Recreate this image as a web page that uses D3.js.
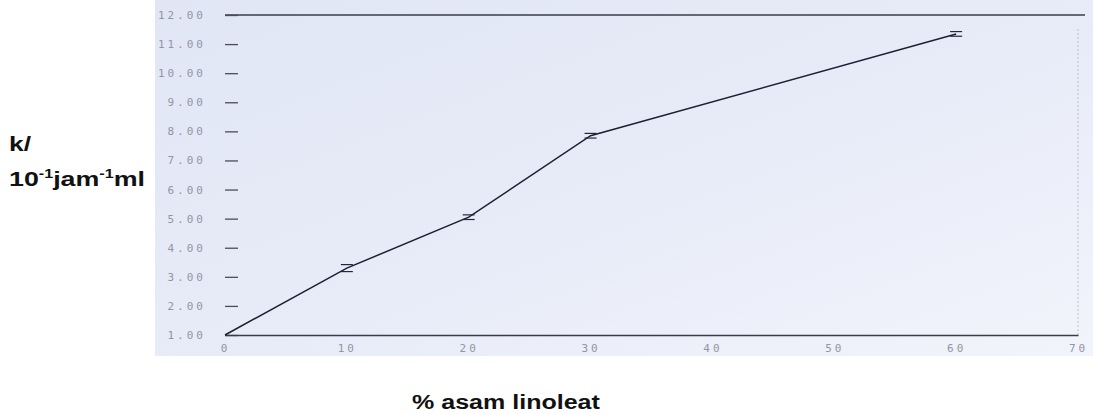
<!DOCTYPE html>
<html>
<head>
<meta charset="utf-8">
<script src="https://cdn.jsdelivr.net/npm/d3@7"></script>
<style>
  body { margin: 0; background: #fff; }
  svg { display: block; }
</style>
</head>
<body>
<div id="viz_container"></div>
<script>
// Data ///////////////////////////////////////////
const linoleat = [0, 10, 20, 30, 60];           // % asam linoleat
const kValues = [1.00, 3.30, 5.05, 7.85, 11.35]; // k / 10^-1 jam^-1 ml
const kErr = [0.03, 0.12, 0.08, 0.08, 0.08];
const xTicks = [0, 10, 20, 30, 40, 50, 60, 70];
const yTicks = [1, 2, 3, 4, 5, 6, 7, 8, 9, 10, 11, 12];

const W = 1093, H = 414;
const svg = d3.select("#viz_container")
  .append("svg")
    .attr("width", W)
    .attr("height", H);

// scanned paper background
const defs = svg.append("defs");
const grad = defs.append("linearGradient").attr("id", "paper")
  .attr("x1", "0").attr("y1", "0").attr("x2", "1").attr("y2", "1");
grad.append("stop").attr("offset", "0%").attr("stop-color", "#e1e6f5");
grad.append("stop").attr("offset", "55%").attr("stop-color", "#e8ecf8");
grad.append("stop").attr("offset", "100%").attr("stop-color", "#f2f4fb");

svg.append("rect")
  .attr("x", 155).attr("y", 0)
  .attr("width", W - 155).attr("height", 356)
  .attr("fill", "url(#paper)");

// scales
const x = d3.scaleLinear().domain([0, 70]).range([225, 1078]);
const y = d3.scaleLinear().domain([1, 12]).range([335, 15]);

// top border line
svg.append("line")
  .attr("x1", x(0)).attr("x2", 1085)
  .attr("y1", y(12)).attr("y2", y(12))
  .attr("stroke", "#3a3d48").attr("stroke-width", 1.6);

// right dotted edge
svg.append("line")
  .attr("x1", x(70)).attr("x2", x(70))
  .attr("y1", y(11.5)).attr("y2", y(1))
  .attr("stroke", "#8a8fa0").attr("stroke-width", 1)
  .attr("stroke-dasharray", "1,3");

// y axis (tick marks inside, no spine)
const yAxis = svg.append("g")
  .attr("transform", `translate(${x(0)},0)`)
  .call(d3.axisRight(y).tickValues(yTicks).tickSize(13).tickFormat(() => ""));
yAxis.select(".domain").remove();
yAxis.selectAll(".tick line").attr("stroke", "#4a4d58").attr("stroke-width", 1.3);

svg.append("g").selectAll("text")
  .data(yTicks)
  .join("text")
    .attr("x", 206)
    .attr("y", d => y(d) + 4)
    .attr("text-anchor", "end")
    .style("font-family", "'DejaVu Sans Mono', monospace")
    .style("font-size", "11px")
    .style("letter-spacing", "3px")
    .attr("fill", "#9295a3")
    .text(d => d3.format(".2f")(d));

// x axis
const xAxis = svg.append("g")
  .attr("transform", `translate(0,${y(1)})`)
  .call(d3.axisBottom(x).tickValues(xTicks).tickSize(0).tickPadding(9).tickFormat(d3.format("d")));
xAxis.select(".domain").attr("stroke", "#3a3d48").attr("stroke-width", 1.6);
xAxis.selectAll("text")
  .style("font-family", "'DejaVu Sans Mono', monospace")
  .style("font-size", "11px")
  .style("letter-spacing", "3px")
  .attr("fill", "#9295a3");

// data line
const pts = linoleat.map((d, i) => ({ x: d, k: kValues[i], e: kErr[i] }));
svg.append("path")
  .datum(pts)
  .attr("fill", "none")
  .attr("stroke", "#1c2035")
  .attr("stroke-width", 1.5)
  .attr("d", d3.line().x(d => x(d.x)).y(d => y(d.k)));

// error caps
const caps = svg.append("g").attr("stroke", "#23273a").attr("stroke-width", 1.2);
pts.slice(1).forEach(d => {
  [d.k + d.e, d.k - d.e].forEach(v => {
    caps.append("line")
      .attr("x1", x(d.x) - 6).attr("x2", x(d.x) + 6)
      .attr("y1", y(v)).attr("y2", y(v));
  });
});

// stretch a text horizontally to a target width (the scan is wider than tall)
function fitWidth(sel, x0, y0, target) {
  const w = sel.node().getComputedTextLength();
  sel.attr("transform", `translate(${x0},${y0}) scale(${target / w},1)`);
}

// axis titles
const yTitle = svg.append("g")
  .style("font-family", "'Liberation Sans', Arial, sans-serif")
  .style("font-weight", "bold")
  .attr("fill", "#111");
const t1 = yTitle.append("text").style("font-size", "20px").text("k/");
fitWidth(t1, 9, 151, 22);
const t2 = yTitle.append("text").style("font-size", "20px");
t2.append("tspan").text("10");
t2.append("tspan").attr("dy", -8).style("font-size", "12px").text("-1");
t2.append("tspan").attr("dy", 8).text("jam");
t2.append("tspan").attr("dy", -8).style("font-size", "12px").text("-1");
t2.append("tspan").attr("dy", 8).text("ml");
fitWidth(t2, 9, 186, 136);

const xt = svg.append("text")
  .style("font-family", "'Liberation Sans', Arial, sans-serif")
  .style("font-weight", "bold")
  .style("font-size", "20px")
  .attr("fill", "#111")
  .text("% asam linoleat");
fitWidth(xt, 412, 409, 188);
</script>
</body>
</html>
